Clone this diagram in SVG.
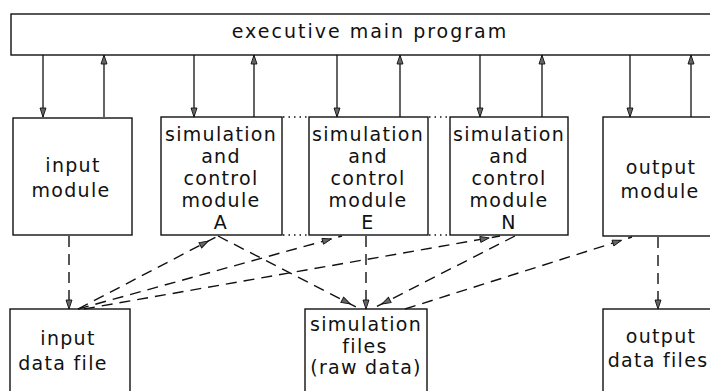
<svg xmlns="http://www.w3.org/2000/svg" width="710" height="391" viewBox="0 0 710 391">
<style>
.box{fill:#fff;stroke:#111;stroke-width:1.4}
.t{font-family:"DejaVu Sans",sans-serif;font-size:19px;letter-spacing:1.3px;fill:#111;text-anchor:middle}
.tt{font-family:"DejaVu Sans",sans-serif;font-size:19px;letter-spacing:2px;fill:#111;text-anchor:middle}
.s{fill:none;stroke:#111;stroke-width:1.3}
.d{fill:none;stroke:#111;stroke-width:1.4;stroke-dasharray:11,7}
.dot{fill:none;stroke:#111;stroke-width:1.4;stroke-dasharray:1.5,4}
</style>
<defs>
<marker id="a" markerUnits="userSpaceOnUse" markerWidth="12" markerHeight="8" refX="9" refY="3" orient="auto" overflow="visible">
<path d="M0,0 L9,3 L0,6 z" fill="#666" stroke="#111" stroke-width="0.9"/>
</marker>
<marker id="b" markerUnits="userSpaceOnUse" markerWidth="12" markerHeight="8" refX="20" refY="3" orient="auto" overflow="visible">
<path d="M0,0 L9,3 L0,6 z" fill="#666" stroke="#111" stroke-width="0.9"/>
</marker>
</defs>

<g id="executive">
<rect class="box" x="11" y="14" width="720" height="41"/>
<text class="tt" x="370" y="38">executive main program</text>
</g>

<g id="input-module">
<rect class="box" x="13" y="118" width="119" height="117"/>
<text class="t" x="73" y="172">input</text>
<text class="t" x="71" y="197">module</text>
</g>

<g id="sim-A">
<rect class="box" x="161" y="117" width="121" height="118"/>
<text class="t" x="221" y="141">simulation</text>
<text class="t" x="221" y="163">and</text>
<text class="t" x="221" y="185">control</text>
<text class="t" x="221" y="207">module</text>
<text class="t" x="221" y="229">A</text>
</g>

<g id="sim-E">
<rect class="box" x="309" y="117" width="119" height="118"/>
<text class="t" x="368" y="141">simulation</text>
<text class="t" x="368" y="163">and</text>
<text class="t" x="368" y="185">control</text>
<text class="t" x="368" y="207">module</text>
<text class="t" x="368" y="229">E</text>
</g>

<g id="sim-N">
<rect class="box" x="450" y="117" width="118" height="118"/>
<text class="t" x="509" y="141">simulation</text>
<text class="t" x="509" y="163">and</text>
<text class="t" x="509" y="185">control</text>
<text class="t" x="509" y="207">module</text>
<text class="t" x="509" y="229">N</text>
</g>

<g id="output-module">
<rect class="box" x="603" y="117" width="120" height="119"/>
<text class="t" x="661" y="174">output</text>
<text class="t" x="660" y="198">module</text>
</g>

<g id="input-data-file">
<rect class="box" x="10" y="309" width="120" height="100"/>
<text class="t" x="68" y="345">input</text>
<text class="t" x="63" y="370">data file</text>
</g>

<g id="simulation-files">
<rect class="box" x="305" y="309" width="122" height="100"/>
<text class="t" x="366" y="331">simulation</text>
<text class="t" x="365" y="353">files</text>
<text class="t" x="366" y="374">(raw data)</text>
</g>

<g id="output-data-files">
<rect class="box" x="603" y="309" width="120" height="100"/>
<text class="t" x="661" y="343">output</text>
<text class="t" x="658" y="367">data files</text>
</g>

<g id="connectors">
<path class="s" d="M43,55 V117" marker-end="url(#a)"/>
<path class="s" d="M104,117 V55" marker-end="url(#a)"/>
<path class="s" d="M194,55 V117" marker-end="url(#a)"/>
<path class="s" d="M254,117 V55" marker-end="url(#a)"/>
<path class="s" d="M337,55 V117" marker-end="url(#a)"/>
<path class="s" d="M400,117 V55" marker-end="url(#a)"/>
<path class="s" d="M480,55 V117" marker-end="url(#a)"/>
<path class="s" d="M542,117 V55" marker-end="url(#a)"/>
<path class="s" d="M630,55 V117" marker-end="url(#a)"/>
<path class="s" d="M691,117 V55" marker-end="url(#a)"/>

<path class="dot" d="M283,117 H309 M283,235 H309 M429,117 H450 M429,235 H450"/>

<path class="d" d="M69,236 V309" marker-end="url(#a)"/>
<path class="d" d="M366,236 V309" marker-end="url(#a)"/>
<path class="d" d="M658,237 V309" marker-end="url(#a)"/>

<path class="d" d="M78,309 L218,236" marker-end="url(#b)"/>
<path class="d" d="M78,309 L342,236" marker-end="url(#b)"/>
<path class="d" d="M84,309 L500,236" marker-end="url(#b)"/>
<path class="d" d="M218,236 L360,309" marker-end="url(#b)"/>
<path class="d" d="M515,236 L372,309" marker-end="url(#b)"/>
<path class="d" d="M405,309 L632,237" marker-end="url(#b)"/>
</g>
</svg>
